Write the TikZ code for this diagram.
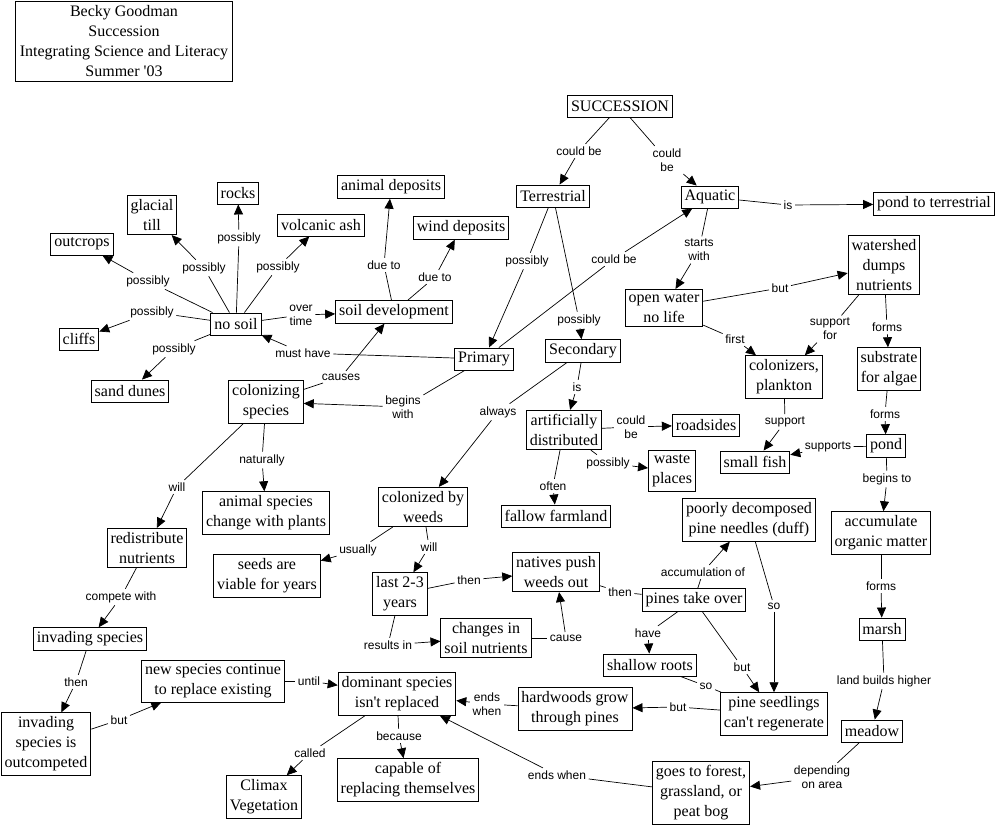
\documentclass[tikz,border=0pt]{standalone}
\usepackage{fontspec}
\setmainfont{Liberation Serif}
\newfontfamily\lblfont{Liberation Sans}
\usetikzlibrary{arrows.meta}
\begin{document}
\begin{tikzpicture}[x=1pt,y=-1pt,
 box/.style={draw,line width=0.9pt,font=\fontsize{16}{20}\selectfont,align=center,inner xsep=3.5pt,inner ysep=4pt,minimum height=22pt},
 lbl/.style={font=\lblfont\fontsize{12}{14}\selectfont,align=center,inner sep=2.5pt},
 ln/.style={line width=0.7pt},
 arr/.style={line width=0.7pt,-{Triangle[length=10pt,width=9pt]}}]
\useasboundingbox (0,0) rectangle (999,827);
% concept boxes
\node[box,minimum width=217pt,minimum height=80pt,inner ysep=2pt] (title) at (124,41) {Becky Goodman\\Succession\\Integrating Science and Literacy\\Summer \textquotesingle03};
\node[box] (succ) at (620,106) {SUCCESSION};
\node[box] (terr) at (553,196) {Terrestrial};
\node[box] (aqua) at (710,197) {Aquatic};
\node[box] (pondter) at (934,204) {pond to terrestrial};
\node[box] (water) at (884,265) {watershed\\dumps\\nutrients};
\node[box] (openw) at (664,308) {open water\\no life};
\node[box] (colon) at (784,377) {colonizers,\\plankton};
\node[box] (substr) at (889,369) {substrate\\for algae};
\node[box] (fish) at (755,462) {small fish};
\node[box] (pond) at (886,446) {pond};
\node[box] (accum) at (881,533) {accumulate\\organic matter};
\node[box] (marsh) at (882,629) {marsh};
\node[box] (meadow) at (872,731) {meadow};
\node[box] (goes) at (701,793) {goes to forest,\\grassland, or\\peat bog};
\node[box] (pineseed) at (774,714) {pine seedlings\\can\textquotesingle t regenerate};
\node[box] (hard) at (575,709) {hardwoods grow\\through pines};
\node[box] (dom) at (397,694) {dominant species\\isn\textquotesingle t replaced};
\node[box] (capable) at (408,780) {capable of\\replacing themselves};
\node[box] (climax) at (264,797) {Climax\\Vegetation};
\node[box] (newsp) at (213,681) {new species continue\\to replace existing};
\node[box] (outc) at (46,744) {invading\\species is\\outcompeted};
\node[box] (invad) at (90,639) {invading species};
\node[box] (redis) at (147,548) {redistribute\\nutrients};
\node[box] (animsp) at (266,513) {animal species\\change with plants};
\node[box] (seeds) at (267,576) {seeds are\\viable for years};
\node[box] (colsp) at (266,402) {colonizing\\species};
\node[box] (sand) at (130,391) {sand dunes};
\node[box] (cliffs) at (79,339) {cliffs};
\node[box] (nosoil) at (236,324) {no soil};
\node[box] (outcr) at (82,244) {outcrops};
\node[box] (glac) at (152,215) {glacial\\till};
\node[box] (rocks) at (238,193) {rocks};
\node[box] (volc) at (321,225) {volcanic ash};
\node[box] (animdep) at (391,187) {animal deposits};
\node[box] (wind) at (461,228) {wind deposits};
\node[box] (soildev) at (394,312) {soil development};
\node[box] (prim) at (484,359) {Primary};
\node[box] (second) at (583,351) {Secondary};
\node[box] (artif) at (564,430) {artificially\\distributed};
\node[box] (road) at (706,425) {roadsides};
\node[box] (waste) at (672,471) {waste\\places};
\node[box] (fallow) at (556,516) {fallow farmland};
\node[box] (colw) at (423,507) {colonized by\\weeds};
\node[box] (last) at (400,594) {last 2-3\\years};
\node[box] (natives) at (556,572) {natives push\\weeds out};
\node[box] (changes) at (486,638) {changes in\\soil nutrients};
\node[box] (pines) at (694,600) {pines take over};
\node[box] (duff) at (749,520) {poorly decomposed\\pine needles (duff)};
\node[box] (shallow) at (650,665) {shallow roots};
% link labels
\node[lbl] (L1) at (579,151) {could be};
\node[lbl] (L2) at (667,160) {could\\be};
\node[lbl] (L3) at (527,261) {possibly};
\node[lbl] (L4) at (579,320) {possibly};
\node[lbl] (L5) at (614,259) {could be};
\node[lbl] (L6) at (788,205) {is};
\node[lbl] (L7) at (699,250) {starts\\with};
\node[lbl] (L8) at (780,288) {but};
\node[lbl] (L9) at (735,339) {first};
\node[lbl] (L10) at (830,329) {support\\for};
\node[lbl] (L11) at (887,327) {forms};
\node[lbl] (L12) at (885,414) {forms};
\node[lbl] (L13) at (785,422) {support};
\node[lbl] (L14) at (828,447) {supports};
\node[lbl] (L15) at (887,479) {begins to};
\node[lbl] (L16) at (881,586) {forms};
\node[lbl] (L17) at (884,681) {land builds higher};
\node[lbl] (L18) at (822,777) {depending\\on area};
\node[lbl] (L19) at (557,775) {ends when};
\node[lbl] (L20) at (678,707) {but};
\node[lbl] (L21) at (487,704) {ends\\when};
\node[lbl] (L22) at (706,686) {so};
\node[lbl] (L23) at (742,667) {but};
\node[lbl] (L24) at (774,606) {so};
\node[lbl] (L25) at (703,572) {accumulation of};
\node[lbl] (L26) at (648,633) {have};
\node[lbl] (L27) at (620,592) {then};
\node[lbl] (L28) at (469,580) {then};
\node[lbl] (L29) at (388,645) {results in};
\node[lbl] (L30) at (566,638) {cause};
\node[lbl] (L31) at (358,550) {usually};
\node[lbl] (L32) at (429,547) {will};
\node[lbl] (L33) at (498,412) {always};
\node[lbl] (L34) at (577,387) {is};
\node[lbl] (L35) at (631,427) {could\\be};
\node[lbl] (L36) at (608,463) {possibly};
\node[lbl] (L37) at (553,486) {often};
\node[lbl] (L38) at (303,353) {must have};
\node[lbl] (L39) at (403,407) {begins\\with};
\node[lbl] (L40) at (341,377) {causes};
\node[lbl] (L41) at (301,315) {over\\time};
\node[lbl] (L42) at (384,265) {due to};
\node[lbl] (L43) at (435,277) {due to};
\node[lbl] (L44) at (148,281) {possibly};
\node[lbl] (L45) at (204,268) {possibly};
\node[lbl] (L46) at (239,238) {possibly};
\node[lbl] (L47) at (278,267) {possibly};
\node[lbl] (L48) at (152,312) {possibly};
\node[lbl] (L49) at (174,349) {possibly};
\node[lbl] (L50) at (177,487) {will};
\node[lbl] (L51) at (262,460) {naturally};
\node[lbl] (L52) at (121,597) {compete with};
\node[lbl] (L53) at (76,682) {then};
\node[lbl] (L54) at (119,720) {but};
\node[lbl] (L55) at (309,681) {until};
\node[lbl] (L56) at (310,753) {called};
\node[lbl] (L57) at (399,736) {because};
% links
\foreach \s/\l/\t in {succ/L1/terr, succ/L2/aqua, terr/L3/prim, terr/L4/second, prim/L5/aqua,
  aqua/L6/pondter, aqua/L7/openw, openw/L8/water, openw/L9/colon, water/L10/colon, water/L11/substr,
  substr/L12/pond, colon/L13/fish, pond/L14/fish, pond/L15/accum, accum/L16/marsh, marsh/L17/meadow,
  meadow/L18/goes, goes/L19/dom, pineseed/L20/hard, hard/L21/dom, pines/L23/pineseed,
  duff/L24/pineseed, pines/L25/duff, pines/L26/shallow, last/L28/natives, last/L29/changes,
  changes/L30/natives, colw/L31/seeds, colw/L32/last, second/L33/colw, second/L34/artif,
  artif/L35/road, artif/L36/waste, artif/L37/fallow, prim/L38/nosoil, prim/L39/colsp,
  colsp/L40/soildev, nosoil/L41/soildev, soildev/L42/animdep, soildev/L43/wind,
  nosoil/L44/outcr, nosoil/L45/glac, nosoil/L46/rocks, nosoil/L47/volc, nosoil/L48/cliffs,
  nosoil/L49/sand, colsp/L50/redis, colsp/L51/animsp, redis/L52/invad, invad/L53/outc,
  outc/L54/newsp, newsp/L55/dom, dom/L56/climax, dom/L57/capable}
  {\draw[ln] (\s) -- (\l); \draw[arr] (\l) -- (\t);}
% links drawn without a visible arrowhead
\draw[ln] (natives) -- (L27) -- (pines);
\draw[ln] (shallow) -- (L22) -- (pineseed);
\end{tikzpicture}
\end{document}
